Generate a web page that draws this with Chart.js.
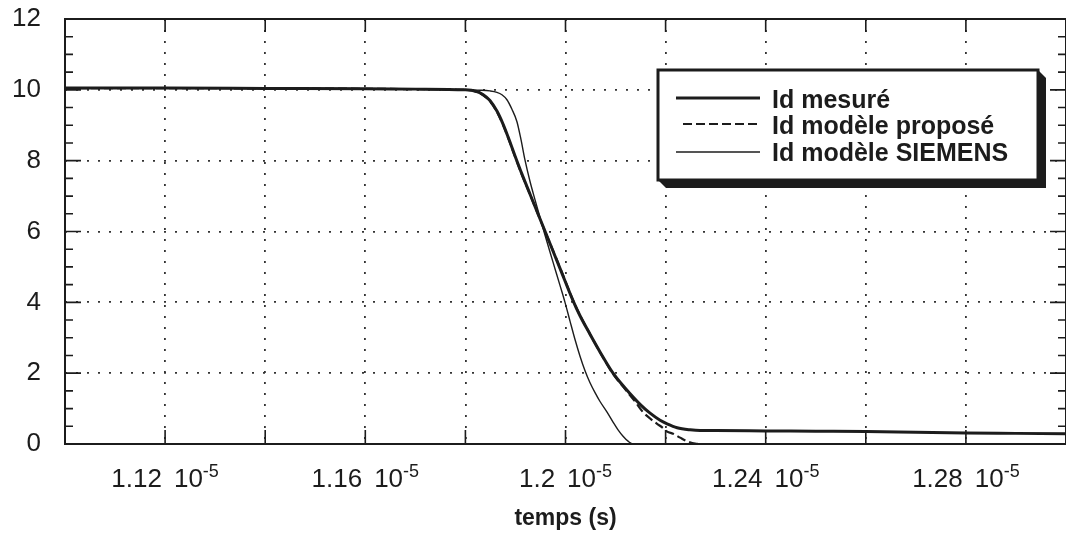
<!DOCTYPE html>
<html>
<head>
<meta charset="utf-8">
<script src="https://cdn.jsdelivr.net/npm/chart.js@4.4.4/dist/chart.umd.min.js"></script>
<style>
  html, body { margin: 0; padding: 0; background: #fff; }
</style>
</head>
<body>
<canvas id="chart" width="1066" height="535"></canvas>
<script>
// measured drain current
const tMesure = [1.100e-5, 1.120e-5, 1.140e-5, 1.160e-5, 1.170e-5, 1.180e-5, 1.1821e-5, 1.1835e-5, 1.1849e-5, 1.1863e-5,
  1.1875e-5, 1.1885e-5, 1.1899e-5, 1.1913e-5, 1.1929e-5, 1.1949e-5, 1.1969e-5, 1.1989e-5, 1.2015e-5, 1.2029e-5,
  1.2049e-5, 1.2069e-5, 1.2095e-5, 1.2119e-5, 1.2149e-5, 1.2169e-5, 1.2189e-5, 1.2203e-5, 1.2223e-5, 1.2249e-5,
  1.2269e-5, 1.2300e-5, 1.2400e-5, 1.2500e-5, 1.2600e-5, 1.2700e-5, 1.2800e-5, 1.2900e-5, 1.3000e-5];
const idMesure = [10.05, 10.05, 10.04, 10.03, 10.02, 10.00, 9.96, 9.87, 9.70, 9.40,
  9.04, 8.68, 8.14, 7.62, 7.06, 6.36, 5.66, 4.96, 4.05, 3.62,
  3.10, 2.60, 2.00, 1.58, 1.12, 0.87, 0.67, 0.57, 0.46, 0.40,
  0.38, 0.38, 0.37, 0.36, 0.35, 0.33, 0.31, 0.30, 0.29];

// proposed model
const tPropose = [1.100e-5, 1.120e-5, 1.140e-5, 1.160e-5, 1.170e-5, 1.180e-5, 1.1821e-5, 1.1835e-5, 1.1849e-5, 1.1863e-5,
  1.1875e-5, 1.1885e-5, 1.1899e-5, 1.1913e-5, 1.1929e-5, 1.1949e-5, 1.1969e-5, 1.1989e-5, 1.2015e-5, 1.2029e-5,
  1.2049e-5, 1.2069e-5, 1.2095e-5, 1.2119e-5, 1.2139e-5, 1.2155e-5, 1.2169e-5, 1.2183e-5, 1.2195e-5, 1.2203e-5,
  1.2215e-5, 1.2229e-5, 1.2243e-5, 1.2259e-5, 1.2269e-5, 1.2400e-5, 1.3000e-5];
const idPropose = [10.05, 10.05, 10.04, 10.03, 10.02, 10.00, 9.95, 9.85, 9.68, 9.38,
  9.02, 8.66, 8.12, 7.60, 7.05, 6.35, 5.67, 4.98, 4.06, 3.63,
  3.10, 2.59, 1.98, 1.55, 1.20, 0.90, 0.72, 0.57, 0.45, 0.35,
  0.29, 0.18, 0.08, 0.01, 0.00, 0.00, 0.00];

// SIEMENS model
const tSiemens = [1.100e-5, 1.120e-5, 1.140e-5, 1.160e-5, 1.180e-5, 1.1829e-5, 1.1849e-5, 1.1863e-5, 1.1873e-5, 1.1883e-5,
  1.1893e-5, 1.1903e-5, 1.1911e-5, 1.1919e-5, 1.1929e-5, 1.1939e-5, 1.1949e-5, 1.1959e-5, 1.1969e-5, 1.1979e-5,
  1.1989e-5, 1.1999e-5, 1.2009e-5, 1.2019e-5, 1.2029e-5, 1.2039e-5, 1.2049e-5, 1.2059e-5, 1.2069e-5, 1.2083e-5,
  1.2095e-5, 1.2105e-5, 1.2115e-5, 1.2125e-5, 1.2135e-5, 1.2200e-5, 1.3000e-5];
const idSiemens = [10.05, 10.05, 10.04, 10.03, 10.00, 9.99, 9.97, 9.93, 9.86, 9.72,
  9.45, 9.10, 8.60, 8.02, 7.42, 6.90, 6.40, 5.90, 5.42, 4.95,
  4.48, 4.00, 3.47, 2.95, 2.48, 2.07, 1.73, 1.45, 1.20, 0.90,
  0.62, 0.40, 0.22, 0.08, 0.00, 0.00, 0.00];

const seriesLabels = ["Id mesuré", "Id modèle proposé", "Id modèle SIEMENS"];

// axes
const xGridValues = [1.10e-5, 1.12e-5, 1.14e-5, 1.16e-5, 1.18e-5, 1.20e-5, 1.22e-5, 1.24e-5, 1.26e-5, 1.28e-5, 1.30e-5];
const xLabelValues = [1.12e-5, 1.16e-5, 1.20e-5, 1.24e-5, 1.28e-5];
const xLabelMantissa = ["1.12", "1.16", "1.2", "1.24", "1.28"];
const xLabelBase = "10";
const xLabelExp = "-5";
const yMinorTicks = [0, 0.5, 1, 1.5, 2, 2.5, 3, 3.5, 4, 4.5, 5, 5.5, 6, 6.5, 7, 7.5, 8, 8.5, 9, 9.5, 10, 10.5, 11, 11.5, 12];

const INK = "#1c1c1c";
const FONT = '"Liberation Sans", Arial, Helvetica, sans-serif';

const xy = (ts, vs) => ts.map((t, i) => ({ x: t, y: vs[i] }));

// plot frame + inward tick marks
const framePlugin = {
  id: "frame",
  afterDatasetsDraw(chart) {
    const { ctx, chartArea: a, scales: { x, y } } = chart;
    ctx.save();
    ctx.strokeStyle = INK;
    ctx.lineWidth = 2;
    ctx.strokeRect(a.left, a.top, a.right - a.left, a.bottom - a.top);
    ctx.lineWidth = 1.6;
    ctx.beginPath();
    yMinorTicks.forEach((v) => {
      const py = y.getPixelForValue(v);
      const len = v % 2 === 0 ? 16 : 8;
      ctx.moveTo(a.left, py); ctx.lineTo(a.left + len, py);
      ctx.moveTo(a.right, py); ctx.lineTo(a.right - len, py);
    });
    xGridValues.forEach((v) => {
      const px = x.getPixelForValue(v);
      ctx.moveTo(px, a.bottom); ctx.lineTo(px, a.bottom - 14);
      ctx.moveTo(px, a.top); ctx.lineTo(px, a.top + 13);
    });
    ctx.stroke();
    ctx.restore();
  },
};

// "1.12 10^-5" style tick labels
const xLabelPlugin = {
  id: "xLabels",
  afterDraw(chart) {
    const { ctx, chartArea: a, scales: { x } } = chart;
    const gap = 12;
    ctx.save();
    ctx.fillStyle = INK;
    ctx.textBaseline = "alphabetic";
    ctx.textAlign = "left";
    xLabelValues.forEach((v, i) => {
      ctx.font = "26px " + FONT;
      const wm = ctx.measureText(xLabelMantissa[i]).width;
      const wb = ctx.measureText(xLabelBase).width;
      ctx.font = "18px " + FONT;
      const ws = ctx.measureText(xLabelExp).width;
      const left = x.getPixelForValue(v) - (wm + gap + wb + ws) / 2;
      ctx.font = "26px " + FONT;
      ctx.fillText(xLabelMantissa[i], left, a.bottom + 43);
      ctx.fillText(xLabelBase, left + wm + gap, a.bottom + 43);
      ctx.font = "18px " + FONT;
      ctx.fillText(xLabelExp, left + wm + gap + wb, a.bottom + 33);
    });
    ctx.restore();
  },
};

// boxed legend with drop shadow
const legendPlugin = {
  id: "boxLegend",
  afterDraw(chart) {
    const { ctx } = chart;
    const L = 658, T = 70, R = 1038, B = 180, d = 8;
    const lineY = [98, 124, 152];
    const textY = [108, 134, 161];
    ctx.save();
    ctx.fillStyle = INK;
    ctx.beginPath();
    ctx.moveTo(R, T);
    ctx.lineTo(R + d, T + d);
    ctx.lineTo(R + d, B + d);
    ctx.lineTo(L + d, B + d);
    ctx.lineTo(L, B);
    ctx.closePath();
    ctx.fill();
    ctx.fillStyle = "#fff";
    ctx.fillRect(L, T, R - L, B - T);
    ctx.strokeStyle = INK;
    ctx.lineWidth = 3;
    ctx.strokeRect(L, T, R - L, B - T);
    chart.data.datasets.forEach((ds, i) => {
      ctx.lineWidth = ds.borderWidth;
      ctx.setLineDash(ds.borderDash || []);
      ctx.beginPath();
      ctx.moveTo(ds.borderDash ? 683 : 676, lineY[i]);
      ctx.lineTo(760, lineY[i]);
      ctx.stroke();
      ctx.setLineDash([]);
      ctx.fillStyle = INK;
      ctx.font = "bold 25px " + FONT;
      ctx.textBaseline = "alphabetic";
      ctx.fillText(ds.label, 772, textY[i]);
    });
    ctx.restore();
  },
};

const gridStyle = { color: "#333", lineWidth: 1.8, drawTicks: false };
const borderStyle = { display: false, dash: [2, 9] };

new Chart(document.getElementById("chart"), {
  type: "line",
  data: {
    datasets: [
      {
        label: seriesLabels[0],
        data: xy(tMesure, idMesure),
        borderColor: INK,
        borderWidth: 3,
        pointRadius: 0,
        cubicInterpolationMode: "monotone",
      },
      {
        label: seriesLabels[1],
        data: xy(tPropose, idPropose),
        borderColor: INK,
        borderWidth: 2.2,
        borderDash: [9, 4],
        pointRadius: 0,
        cubicInterpolationMode: "monotone",
      },
      {
        label: seriesLabels[2],
        data: xy(tSiemens, idSiemens),
        borderColor: INK,
        borderWidth: 1.4,
        pointRadius: 0,
        cubicInterpolationMode: "monotone",
      },
    ],
  },
  options: {
    responsive: false,
    animation: false,
    layout: { padding: { top: 19, left: 0, right: 0, bottom: 0 } },
    plugins: {
      legend: { display: false },
      tooltip: { enabled: false },
    },
    scales: {
      x: {
        type: "linear",
        min: 1.10e-5,
        max: 1.30e-5,
        afterBuildTicks: (s) => { s.ticks = xGridValues.map((v) => ({ value: v })); },
        afterFit: (s) => { s.height = 91; s.paddingLeft = 0; s.paddingRight = 0; },
        ticks: { display: false },
        grid: gridStyle,
        border: borderStyle,
        title: {
          display: true,
          text: "temps (s)",
          color: INK,
          font: { family: FONT, size: 23, weight: "bold" },
          padding: { top: 0, bottom: 3 },
        },
      },
      y: {
        min: 0,
        max: 12,
        afterFit: (s) => { s.width = 65; s.paddingTop = 0; s.paddingBottom = 0; },
        ticks: { stepSize: 2, color: INK, font: { family: FONT, size: 26 }, padding: 24 },
        grid: gridStyle,
        border: borderStyle,
      },
    },
  },
  plugins: [framePlugin, xLabelPlugin, legendPlugin],
});
</script>
</body>
</html>
